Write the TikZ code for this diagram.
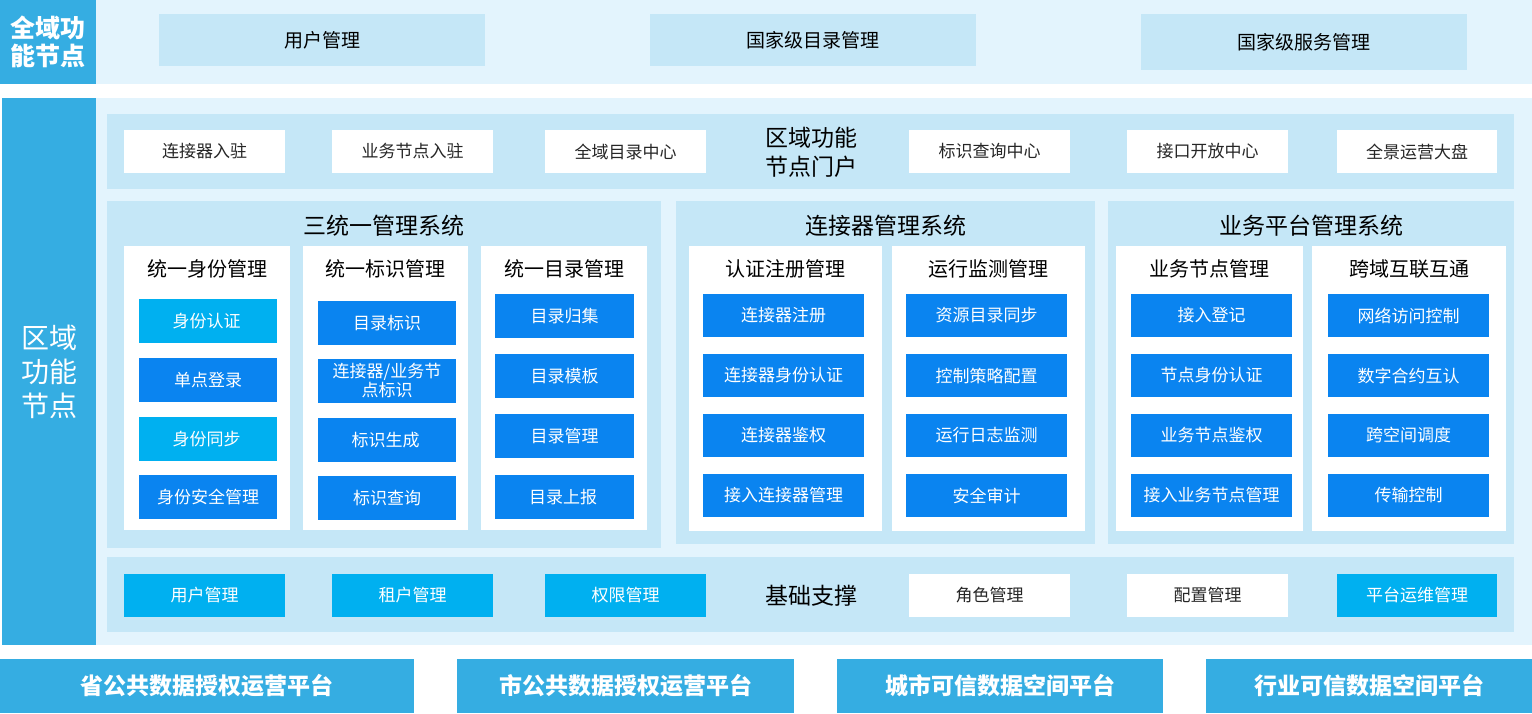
\documentclass[tikz,border=0pt]{standalone}
\usepackage{fontspec}
\setmainfont{Noto Sans CJK SC}
\newfontfamily\cjkb{Noto Sans CJK SC}
\definecolor{side}{HTML}{35ADE2}
\definecolor{outer}{HTML}{E3F4FD}
\definecolor{inner}{HTML}{C5E7F7}
\definecolor{cyanb}{HTML}{00B0F0}
\definecolor{blueb}{HTML}{0A84F0}
\begin{document}
\begin{tikzpicture}[x=1pt,y=-1pt,
  R/.style={inner sep=0pt,outer sep=0pt},
  fillbox/.style={fill=#1,draw=none},
  lbl/.style={font=\fontsize{17}{19}\selectfont,text=white,align=center},
  blk/.style={font=\fontsize{19}{21}\selectfont,text=black,align=center},
  wlbl/.style={font=\fontsize{17}{19}\selectfont,text=black!85},
]
\useasboundingbox (0,0) rectangle (1532,713);
\newcommand{\bx}[6]{\fill[#5] (#1,#2) rectangle (#3,#4); \node[R] (#6) at ({(#1+#3)/2},{(#2+#4)/2}) {};}
% top
\bx{0}{0}{96}{84}{side}{tops}
\node[font=\fontsize{25}{28}\selectfont\bfseries,text=white,align=center] at (tops) {全域功\\能节点};
\bx{96}{0}{1532}{84}{outer}{topp}
\bx{159}{14}{485}{66}{inner}{t1}\node[blk] at (t1) {用户管理};
\bx{650}{14}{976}{66}{inner}{t2}\node[blk] at (t2) {国家级目录管理};
\bx{1141}{14}{1467}{70}{inner}{t3}\node[blk] at (t3) {国家级服务管理};
% middle
\bx{2}{98}{96}{645}{side}{ms}
\node[font=\fontsize{28}{34}\selectfont,text=white,align=center] at (ms) {区域\\功能\\节点};
\bx{96}{98}{1532}{645}{outer}{mp}
\bx{107}{114}{1514}{189}{inner}{portal}
\node[font=\fontsize{23}{29}\selectfont,align=center] at (811,152) {区域功能\\节点门户};
\foreach \a/\b/\t [count=\i] in {124/285/连接器入驻,332/493/业务节点入驻,545/706/全域目录中心,909/1070/标识查询中心,1127/1288/接口开放中心,1337/1497/全景运营大盘}{
  \fill[white] (\a,130) rectangle (\b,173);
  \node[wlbl] (p\i) at ({(\a+\b)/2},151.5) {\t};
}
% systems
\bx{107}{201}{661}{548}{inner}{s1}
\bx{676}{201}{1095}{544}{inner}{s2}
\bx{1108}{201}{1514}{544}{inner}{s3}
\node[font=\fontsize{23}{26}\selectfont] at (384,226) {三统一管理系统};
\node[font=\fontsize{23}{26}\selectfont] at (886,226) {连接器管理系统};
\node[font=\fontsize{23}{26}\selectfont] at (1311,226) {业务平台管理系统};
\foreach \a/\b/\h/\t in {124/290/530/统一身份管理,303/468/530/统一标识管理,481/647/530/统一目录管理,689/882/531/认证注册管理,892/1085/531/运行监测管理,1116/1303/531/业务节点管理,1312/1506/531/跨域互联互通}{
  \fill[white] (\a,246) rectangle (\b,\h);
  \node[blk,font=\fontsize{20}{22}\selectfont] at ({(\a+\b)/2},269) {\t};
}
% col boxes
\foreach \y/\c/\t [count=\i] in {299/cyanb/身份认证\,/核验,358/blueb/单点登录,417/cyanb/身份同步\,/上报,475/blueb/身份安全管理}{
  \fill[\c] (139,\y) rectangle (277,\y+44);
  \node[lbl] (a\i) at (208,\y+22) {\t};}
\foreach \y/\t [count=\i] in {301/目录标识,359/{连接器/业务节\\点标识},418/标识生成\,/解析,476/标识查询}{
  \fill[blueb] (318,\y) rectangle (456,\y+44);
  \node[lbl,font=\fontsize{17}{19}\selectfont] (b\i) at (387,\y+22) {\t};}
\foreach \y/\t [count=\i] in {294/目录归集,354/目录模板,414/目录管理,475/目录上报\,/同步}{
  \fill[blueb] (495,\y) rectangle (634,\y+44);
  \node[lbl] (c\i) at (564.5,\y+22) {\t};}
\foreach \y/\t/\u/\v/\w [count=\i] in {294/连接器注册/资源目录同步/接入登记/网络访问控制,354/连接器身份认证/控制策略配置/节点身份认证/数字合约互认,414/连接器鉴权/运行日志监测/业务节点鉴权/跨空间调度,474/接入连接器管理/安全审计/接入业务节点管理/传输控制}{
  \fill[blueb] (703,\y) rectangle (864,\y+43); \node[lbl] (d\i) at (783.5,\y+21.5) {\t};
  \fill[blueb] (906,\y) rectangle (1067,\y+43); \node[lbl] (e\i) at (986.5,\y+21.5) {\u};
  \fill[blueb] (1131,\y) rectangle (1292,\y+43); \node[lbl] (f\i) at (1211.5,\y+21.5) {\v};
  \fill[blueb] (1328,\y) rectangle (1489,\y+43); \node[lbl] (g\i) at (1408.5,\y+21.5) {\w};
}
% base
\bx{107}{557}{1514}{632}{inner}{base}
\node[font=\fontsize{23}{26}\selectfont] at (811,596) {基础支撑};
\foreach \a/\b/\c/\tc/\t [count=\i] in {124/285/cyanb/white/用户管理,332/493/cyanb/white/租户管理,545/706/cyanb/white/权限管理,909/1070/white/black!85/角色管理,1127/1288/white/black!85/配置管理,1337/1497/cyanb/white/平台运维管理}{
  \fill[\c] (\a,574) rectangle (\b,617);
  \node[font=\fontsize{17}{19}\selectfont,text=\tc] (q\i) at ({(\a+\b)/2},595.5) {\t};
}
% bottom
\foreach \a/\b/\t [count=\i] in {0/414/省公共数据授权运营平台,457/794/市公共数据授权运营平台,837/1163/城市可信数据空间平台,1206/1532/行业可信数据空间平台}{
  \fill[side] (\a,659) rectangle (\b,713);
  \node[font=\fontsize{23}{26}\selectfont\bfseries,text=white] (z\i) at ({(\a+\b)/2},686) {\t};
}
\end{tikzpicture}
\end{document}
